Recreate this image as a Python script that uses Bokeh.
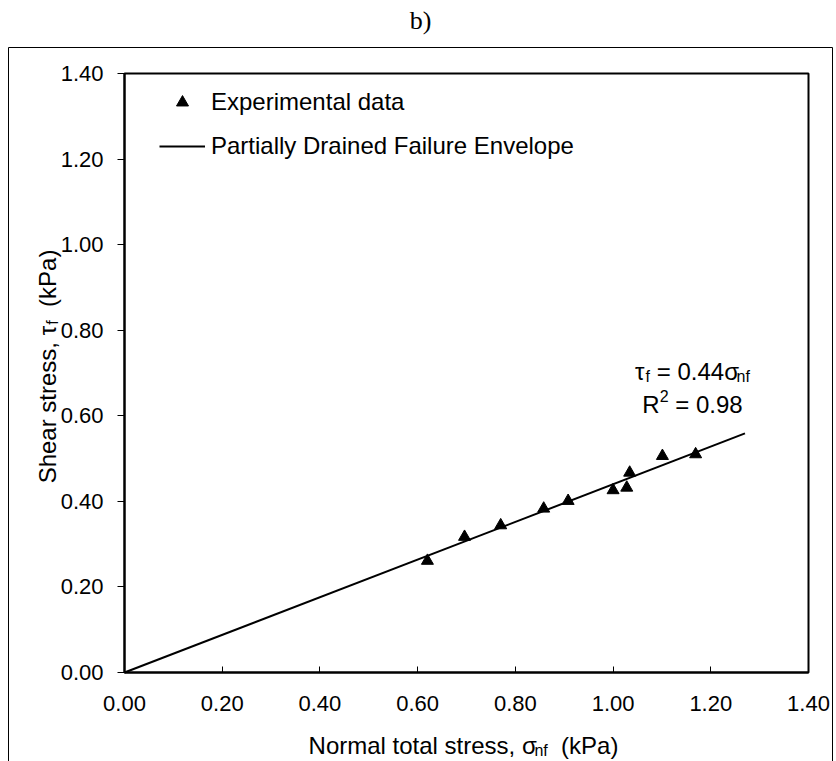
import math

from bokeh.embed import file_html
from bokeh.models import (BoxAnnotation, FixedTicker, Label, Legend, LegendItem,
                          NumeralTickFormatter, Range1d)
from bokeh.plotting import figure
from bokeh.resources import INLINE

# ---- data -------------------------------------------------------------
normal_stress = [0.620, 0.696, 0.770, 0.858, 0.908, 1.000, 1.028, 1.034, 1.101, 1.169]
shear_stress = [0.261, 0.317, 0.344, 0.383, 0.401, 0.426, 0.432, 0.467, 0.506, 0.510]

fit_slope = 0.44          # tau_f = 0.44 sigma_nf
r_squared = 0.98
envelope_x = [0.0, 1.27]
envelope_y = [fit_slope * x for x in envelope_x]

axis_min, axis_max = 0.0, 1.4
axis_ticks = [0.0, 0.2, 0.4, 0.6, 0.8, 1.0, 1.2, 1.4]

# ---- page geometry (canvas pixels, measured from top-left) -------------
W, H = 836, 761
AREA_L, AREA_R, AREA_T, AREA_B = 124, 808, 73, 672   # where 0..1.4 is drawn

FONT = "Liberation Sans"
SERIF = "Liberation Serif"
TICK = 22
BIG, SMALL = 24, 16

# The frame spans the whole canvas so that titles and notes around the
# plotting area are not clipped; the axes sit at fixed positions inside it.
kx = (axis_max - axis_min) / (AREA_R - AREA_L)
ky = (axis_max - axis_min) / (AREA_B - AREA_T)
x_range = Range1d(axis_min - AREA_L * kx, axis_max + (W - AREA_R) * kx)
y_range = Range1d(axis_min - (H - AREA_B) * ky, axis_max + AREA_T * ky)

p = figure(width=W, height=H, x_range=x_range, y_range=y_range,
           output_backend="svg", toolbar_location=None,
           min_border=0, min_border_left=0, min_border_right=0,
           min_border_top=0, min_border_bottom=0)
p.background_fill_color = "white"
p.border_fill_color = "white"
p.outline_line_color = None
p.xgrid.visible = False
p.ygrid.visible = False

for ax in (p.xaxis[0], p.yaxis[0]):
    ax.fixed_location = axis_min
    ax.bounds = (axis_min, axis_max)
    ax.ticker = FixedTicker(ticks=axis_ticks)
    ax.formatter = NumeralTickFormatter(format="0.00")
    ax.minor_tick_line_color = None
    ax.axis_line_color = "black"
    ax.axis_line_width = 2
    ax.major_tick_line_color = "black"
    ax.major_tick_line_width = 1
    ax.major_label_text_font = FONT
    ax.major_label_text_font_size = f"{TICK}px"
    ax.major_label_text_color = "black"

p.xaxis.major_tick_in = 6
p.xaxis.major_tick_out = 0
p.xaxis.major_label_standoff = 23
p.yaxis.major_tick_in = 0
p.yaxis.major_tick_out = 7
p.yaxis.major_label_standoff = 14

# plotting-area border
p.add_layout(BoxAnnotation(left=axis_min, right=axis_max, bottom=axis_min, top=axis_max,
                           fill_alpha=0, line_color="black", line_alpha=1, line_width=2))

# ---- marks --------------------------------------------------------------
pts = p.scatter(normal_stress, shear_stress, marker="triangle", size=12,
                fill_color="black", line_color="black")
env = p.line(envelope_x, envelope_y, line_color="black", line_width=2)

legend = Legend(items=[LegendItem(label="Experimental data", renderers=[pts]),
                       LegendItem(label="Partially Drained Failure Envelope", renderers=[env])],
                location=(159, H - 161), orientation="vertical",
                glyph_width=46, glyph_height=30, label_height=30, spacing=14,
                label_standoff=6, padding=0, margin=0,
                border_line_alpha=0, background_fill_alpha=0,
                label_text_font=FONT, label_text_font_size=f"{BIG}px",
                label_text_color="black")
p.add_layout(legend)

# ---- text helpers (canvas px from top-left -> screen units) ------------
ARIAL = {' ': 278, '(': 333, ')': 333, ',': 278, '.': 278, '=': 584,
         'N': 722, 'S': 667, 'P': 667, 'R': 722,
         'a': 556, 'e': 556, 'f': 278, 'h': 556, 'k': 500, 'l': 222, 'm': 833,
         'n': 556, 'o': 556, 'r': 333, 's': 500, 't': 278,
         '\u03c4': 440, '\u03c3': 520}


def text_width(s, size):
    return sum(ARIAL.get(c, 556) for c in s) * size / 1000.0


def put(text, X, Y, size, font=FONT, align="left", baseline="alphabetic", angle=0.0):
    p.add_layout(Label(x=X, y=H - Y, x_units="screen", y_units="screen",
                       text=text, text_font=font, text_font_size=f"{size}px",
                       text_align=align, text_baseline=baseline, angle=angle,
                       text_color="black"))


def run(pieces, X, Y, vertical=False):
    """pieces: (text, size, baseline shift, gap before); X/Y = start of run."""
    pos = Y if vertical else X
    for text, size, shift, gap in pieces:
        if vertical:
            pos -= gap
            put(text, X + shift, pos, size, angle=math.pi / 2)
            pos -= text_width(text, size)
        else:
            pos += gap
            put(text, pos, Y + shift, size)
            pos += text_width(text, size)


def run_length(pieces):
    return sum(text_width(t, s) + g for t, s, _, g in pieces)


SP = text_width(" ", BIG)

# panel letter
put("b)", 420, 20, 26, font=SERIF, align="center", baseline="middle")

# x axis title
x_title = [("Normal total stress, \u03c3", BIG, 0, 0), ("nf", SMALL, 5, 0), ("(kPa)", BIG, 0, 2 * SP)]
run(x_title, 463 - run_length(x_title) / 2, 745)

# y axis title (reads bottom to top)
y_title = [("Shear stress, \u03c4", BIG, 0, 0), ("f", SMALL, 5, 0), ("(kPa)", BIG, 0, 2 * SP)]
run(y_title, 47, 366 + run_length(y_title) / 2, vertical=True)

# fit annotation
eq_line = [("\u03c4", BIG, 0, 0), ("f", SMALL, 5, 0),
           (f"= {fit_slope:.2f}\u03c3", BIG, 0, SP), ("nf", SMALL, 5, 0)]
run(eq_line, 692 - run_length(eq_line) / 2, 371)
r2_line = [("R", BIG, 0, 0), ("2", SMALL, -9, 0), (f"= {r_squared:.2f}", BIG, 0, SP)]
run(r2_line, 692 - run_length(r2_line) / 2, 404)

# outer panel border (its lower edge runs off the page)
p.add_layout(BoxAnnotation(left=8, right=832, top=H - 47, bottom=-20,
                           left_units="screen", right_units="screen",
                           top_units="screen", bottom_units="screen",
                           fill_alpha=0, line_color="black", line_alpha=1, line_width=1))

open("out.html", "w").write(file_html(p, INLINE))
